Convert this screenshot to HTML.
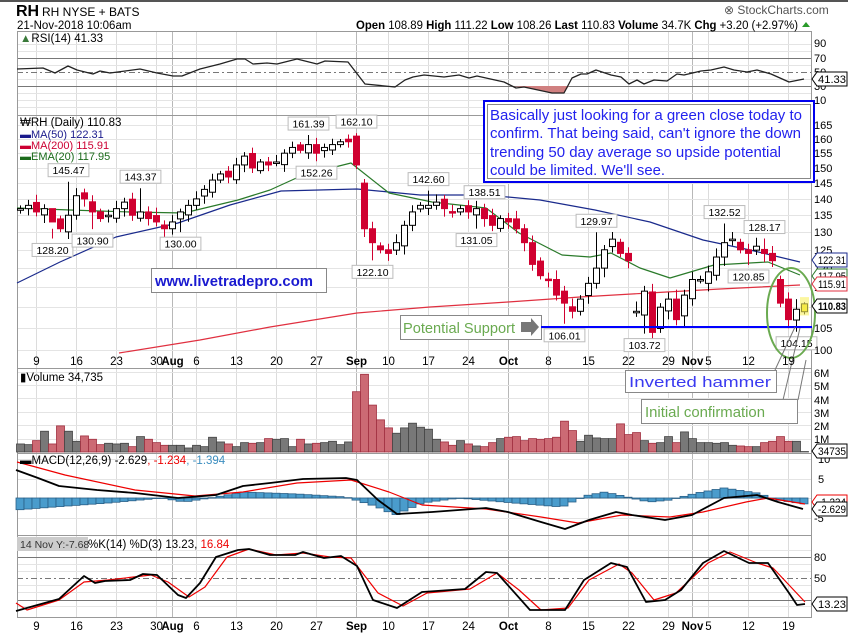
<!DOCTYPE html>
<html><head><meta charset="utf-8"><style>
html,body{margin:0;padding:0;background:#fff;width:848px;height:634px;overflow:hidden}
svg{display:block;font-family:"Liberation Sans",Arial,sans-serif}
</style></head><body>
<svg id="s" width="848" height="634" viewBox="0 0 848 634" xmlns="http://www.w3.org/2000/svg">
<rect x="0" y="0" width="848" height="634" fill="#fff"/>
<rect x="0" y="0" width="848" height="2" fill="#555"/>
<g id="grid"></g>
<g fill="none" stroke="#999" stroke-width="1">
<rect x="17.5" y="31.5" width="794" height="586"/>
<line x1="17" y1="115.5" x2="812" y2="115.5"/>
<line x1="17" y1="368.5" x2="812" y2="368.5"/>
<line x1="17" y1="453.5" x2="812" y2="453.5"/>
<line x1="17" y1="535.5" x2="812" y2="535.5"/>
</g>
<g id="data"></g>
<text x="16" y="16" font-size="16" font-weight="bold" fill="#000">RH</text>
<text x="42" y="16" font-size="12" fill="#000">RH NYSE + BATS</text>
<text x="17" y="29" font-size="11.5" fill="#000">21-Nov-2018 10:06am</text>
<text x="356" y="29" font-size="11.5" fill="#000" textLength="442" lengthAdjust="spacingAndGlyphs"><tspan font-weight="bold">Open</tspan> 108.89 <tspan font-weight="bold">High</tspan> 111.22 <tspan font-weight="bold">Low</tspan> 108.26 <tspan font-weight="bold">Last</tspan> 110.83 <tspan font-weight="bold">Volume</tspan> 34.7K <tspan font-weight="bold">Chg</tspan> +3.20 (+2.97%)</text>
<polygon points="802,27 806,22 810,27" fill="#2a9a2a"/>
<text x="724" y="14" font-size="12" fill="#555">⊗ StockCharts.com</text>
<text x="20" y="42" font-size="11.5" fill="#000"><tspan fill="#3a7a3a">▲</tspan>RSI(14) 41.33</text>
<text x="20" y="126" font-size="11.5" fill="#000">₩RH (Daily) 110.83</text>
<text x="20" y="138" font-size="11" fill="#1a1a8c">▬MA(50) 122.31</text>
<text x="20" y="149" font-size="11" fill="#cc0033">▬MA(200) 115.91</text>
<text x="20" y="160" font-size="11" fill="#1a6a1a">▬EMA(20) 117.95</text>
<text x="20" y="381" font-size="11.5" fill="#000">▮Volume 34,735</text>
<text x="20" y="464" font-size="11.5" fill="#000">▬MACD(12,26,9) -2.629<tspan fill="#e00">, -1.234</tspan><tspan fill="#3b8ec0">, -1.394</tspan></text>
<rect x="17" y="537" width="71" height="14" fill="#ccc"/>
<text x="20" y="548" font-size="10.5" fill="#333">14 Nov Y:-7.68</text>
<text x="88" y="548" font-size="11.5" fill="#000">%K(14) %D(3) 13.23, <tspan fill="#e00">16.84</tspan></text>
<g font-size="11" fill="#000" id="rax">
<text x="814" y="47">90</text><text x="814" y="62">70</text><text x="814" y="76">50</text><text x="814" y="90">30</text><text x="814" y="104">10</text>
<text x="814" y="377">6M</text><text x="814" y="390">5M</text><text x="814" y="404">4M</text><text x="814" y="417">3M</text><text x="814" y="430">2M</text><text x="814" y="443">1M</text>
<text x="818" y="463">10</text><text x="818" y="483">5</text><text x="818" y="502">0</text><text x="814" y="522">-5</text>
<text x="814" y="561">80</text><text x="814" y="582">50</text>
</g>
<rect x="484" y="101" width="330" height="81" fill="#fff" stroke="#0000ee" stroke-width="2"/>
<rect x="487.5" y="104.5" width="323" height="74" fill="none" stroke="#888" stroke-width="1"/>
<g font-size="15" fill="#2222ee">
<text x="490" y="120" textLength="312" lengthAdjust="spacingAndGlyphs">Basically just looking for a green close today to</text>
<text x="490" y="138" textLength="311" lengthAdjust="spacingAndGlyphs">confirm. That being said, can't ignore the down</text>
<text x="490" y="157" textLength="291" lengthAdjust="spacingAndGlyphs">trending 50 day average so upside potential</text>
<text x="490" y="175" textLength="175" lengthAdjust="spacingAndGlyphs">could be limited. We'll see.</text>
</g>
<rect x="151.5" y="268.5" width="175" height="24" fill="#fff" stroke="#888"/>
<text x="155" y="286" font-size="15" font-weight="bold" fill="#1a1ad0" textLength="158" lengthAdjust="spacingAndGlyphs">www.livetradepro.com</text>
<rect x="400.5" y="315.5" width="141" height="24" fill="#fff" stroke="#888"/>
<text x="403" y="333" font-size="15" fill="#6aaa50" textLength="112" lengthAdjust="spacingAndGlyphs">Potential Support</text>
<polygon points="521,322 531,322 531,318 539,327 531,336 531,332 521,332" fill="#777"/>
<line x1="541" y1="327" x2="812" y2="327" stroke="#0000ff" stroke-width="2"/>
<ellipse cx="791" cy="313" rx="24" ry="45" fill="none" stroke="#6aaa50" stroke-width="2"/>
<line x1="775" y1="370" x2="795" y2="327" stroke="#777"/>
<line x1="798" y1="400" x2="806" y2="360" stroke="#777"/>
<line x1="783" y1="400" x2="800" y2="328" stroke="#777"/>
<rect x="625.5" y="370.5" width="151" height="22" fill="#fff" stroke="#888"/>
<text x="629" y="387" font-size="15" fill="#3a3af0" textLength="142" lengthAdjust="spacingAndGlyphs">Inverted hammer</text>
<rect x="641.5" y="399.5" width="156" height="24" fill="#fff" stroke="#888"/>
<text x="645" y="417" font-size="15" fill="#6aaa50" textLength="120" lengthAdjust="spacingAndGlyphs">Initial confirmation</text>
<g id="dates" font-size="11.5" fill="#000"></g>
<g id="tags"></g>
</svg>
<script>
(function(){
var NS="http://www.w3.org/2000/svg";
var G=document.getElementById('data'),GR=document.getElementById('grid'),D=document.getElementById('dates'),RA=document.getElementById('rax'),TG=document.getElementById('tags');
function el(p,t,a,txt){var e=document.createElementNS(NS,t);for(var k in a)e.setAttribute(k,a[k]);if(txt!=null)e.textContent=txt;p.appendChild(e);return e;}
function X(i){return 20+8*i;}
function PY(p){return 350-1034*Math.log10(p/100);}
function pl(pts,col,w,dash){el(G,'polyline',{points:pts.map(function(p){return p[0]+','+p[1]}).join(' '),fill:'none',stroke:col,'stroke-width':w||1,'stroke-dasharray':dash||'none','stroke-linejoin':'round'});}
var panels=[[31,115],[115,368],[368,453],[453,535],[535,617]];
var mondays=[2,7,12,17,22,27,32,37,46,51,56,66,71,76,81,86,91,96];
var wkLab=['9','16','23','30','6','13','20','27','10','17','24','8','15','22','29','5','12','19'];
var months=[19,42,61,84];
mondays.forEach(function(i){panels.forEach(function(p){el(GR,'line',{x1:X(i)+.5,y1:p[0],x2:X(i)+.5,y2:p[1],stroke:'#dcdcdc'});});});
months.forEach(function(i){panels.forEach(function(p){el(GR,'line',{x1:X(i)+.5,y1:p[0],x2:X(i)+.5,y2:p[1],stroke:'#b8b8b8'});});});
function hg(y,c,d){el(GR,'line',{x1:17,y1:y+.5,x2:812,y2:y+.5,stroke:c||'#e4e4e4','stroke-dasharray':d||'none'});}
[44,51,65,79,93,100,107].forEach(function(y){hg(y);});
hg(58,'#777');hg(86,'#777');hg(72,'#777','6,3,2,3');
[165,160,155,150,145,140,135,130,125,120,115,110,105,100].forEach(function(p){var y=Math.round(PY(p));hg(y);el(RA,'text',{x:814,y:y+4},String(p));});
for(var m=1;m<=6;m++)hg(Math.round(452-13.4*m));
[459,479,498,518].forEach(function(y){hg(y);});
[550,564,571,585,592,606].forEach(function(y){hg(y);});
hg(557,'#777');hg(600,'#777');hg(578,'#777','6,3,2,3');
function dl(y){mondays.forEach(function(i,k){el(D,'text',{x:X(i)+.5,y:y,'text-anchor':'middle'},wkLab[k]);});
[['Aug',19],['Sep',42],['Oct',61],['Nov',84]].forEach(function(a){el(D,'text',{x:X(a[1])+.5,y:y,'text-anchor':'middle','font-weight':'bold'},a[0]);});}
dl(365);dl(630);
var rsi=[[17,69],[43,68],[55,73],[68,66],[77,70],[93,74],[100,71],[110,73],[140,69],[157,73],[173,76],[182,76],[200,69],[220,64],[237,59],[245,59],[253,64],[267,63],[277,64],[297,59],[317,64],[325,61],[348,62],[365,84],[395,87],[405,80],[413,77],[424,75],[444,77],[459,75],[469,78],[477,76],[504,82],[516,88],[524,87],[552,93],[564,93],[572,78],[581,74],[587,74],[596,70],[611,75],[621,77],[629,84],[637,80],[644,84],[654,80],[667,81],[677,74],[684,75],[701,71],[711,70],[724,67],[734,70],[747,72],[757,70],[771,74],[789,82],[804,79]];
el(G,'polygon',{points:'513,86 524,87 552,93 564,93 569,86',fill:'#d08080'});
pl(rsi,'#222',1.3);
var C=[137,138, 136,137,133,131,135, 141,140,136,134,135, 137,139,135,136,134, 133,131,133,136,138, 140,143,146,148,147, 151,154,150,152,151, 152,155,157,156,158, 155,157,158,159,159, 151,131,127,125, 124,127,132,136,138, 138,139,137,136,137, 136,137,134,132,134, 133,131,127,121,118, 117,113,111,109,112, 116,120,125,128,124, 122,109,114,104,110, 112,107,113,117,117, 119,123,127,128,125, 124,126,124,122,111, 107,109.5,110.83];
var O={42:161,43:145,44:131,77:109,79:113.8,95:117,96:112,97:106.9,98:108.9,64:127,63:131,68:114,86:116,72:116};
var H={4:131,6:145.47,15:143.37,36:161.39,42:162.1,51:142.6,58:138.51,72:129.97,88:132.52,93:128.17,97:112,98:111.22};
var L={4:128.2,9:130.9,20:130,37:152.26,44:122.1,57:131.05,68:106.01,78:103.72,91:120.85,97:104.15,98:108.26};
var opens=[],hi=[],lo=[];
for(var i=0;i<C.length;i++){var o=O[i]!=null?O[i]:(i?C[i-1]+((i%3)-1)*0.9:136.5);opens.push(o);
 var h=Math.max(o,C[i])+1+((i*7)%5)*0.35,l=Math.min(o,C[i])-1-((i*3)%5)*0.35;if(H[i])h=H[i];if(L[i])l=L[i];hi.push(h);lo.push(l);}
pl([[119,353],[200,340],[270,327],[357,313],[430,307],[508,302],[580,297],[649,293],[720,289],[800,285]],'#e03040',1.2);
pl([[17,283],[60,262],[116,237],[178,223],[230,205],[281,191],[357,189],[420,195],[486,195],[540,200],[595,210],[650,222],[703,240],[750,250],[800,262]],'#1a2a8c',1.2);
pl([[17,208],[70,210],[130,212],[184,213],[238,200],[270,190],[303,175],[351,163],[389,193],[432,202],[486,208],[519,233],[562,255],[590,257],[611,253],[640,268],[670,278],[714,265],[768,262],[800,275]],'#2a7a2a',1.2);
for(var i=0;i<C.length;i++){var x=X(i),o=opens[i],c=C[i],up=c>=o;var col=up?'#000':'#d00030';
 el(G,'line',{x1:x+.5,y1:PY(hi[i]),x2:x+.5,y2:PY(lo[i]),stroke:col});
 var yt=PY(Math.max(o,c)),yb=PY(Math.min(o,c));if(yb-yt<1.5)yb=yt+1.5;
 el(G,'rect',{x:x-2.5,y:yt,width:6,height:yb-yt,fill:i==98?'#f0e020':(up?'#fff':'#d00030'),stroke:col});}
el(G,'rect',{x:X(98)-4,y:PY(112.5),width:9,height:PY(108)-PY(112.5),fill:'#f8f060',opacity:0.6});
function co(i,v,above){var t=v.toFixed(2),w=t.length*5.8+6,x=X(i)+.5-w/2,y=above?PY(v)-18:PY(v)+5;
 el(G,'rect',{x:x,y:y,width:w,height:13,fill:'#fff',stroke:'#bbb'});el(G,'text',{x:X(i)+.5,y:y+10.5,'text-anchor':'middle','font-size':'10.5',fill:'#000'},t);}
[[6,145.47,1],[15,143.37,1],[36,161.39,1],[42,162.1,1],[51,142.6,1],[58,138.51,1],[72,129.97,1],[88,132.52,1],[93,128.17,1],
 [4,128.2,0],[9,130.9,0],[20,130,0],[37,152.26,0],[44,122.1,0],[57,131.05,0],[68,106.01,0],[78,103.72,0],[91,120.85,0],[97,104.15,0]].forEach(function(a){co(a[0],a[1],a[2]);});
function tag(y,t,col,bold){el(TG,'polygon',{points:'812,'+y+' 817,'+(y-7)+' 847,'+(y-7)+' 847,'+(y+7)+' 817,'+(y+7),fill:'#fff',stroke:col});
 el(TG,'text',{x:818,y:y+4,'font-size':'11','font-weight':bold?'bold':'normal',fill:'#000',textLength:28,lengthAdjust:'spacingAndGlyphs'},t);}
tag(79,'41.33','#000');tag(260,'122.31','#1a2a8c');tag(276,'117.95','#2a7a2a');tag(284,'115.91','#e03040');tag(306,'110.83','#000',1);
tag(451,'34735','#000');tag(502,'-1.234','#e00');tag(509,'-2.629','#000');tag(604,'13.23','#000');
var V=[0.6,0.55, 0.85,1.55,0.6,1.95,1.55, 0.8,1.2,0.95,0.55,0.65, 0.6,0.65,0.4,1.15,0.95, 0.7,0.5,0.5,0.5,0.3, 0.5,0.4,1.1,0.75,0.6, 0.4,0.7,0.65,0.7,1.0, 0.95,1.0,0.4,0.95,0.6, 0.65,0.7,0.8,0.55,0.75, 4.5,5.8,3.5,2.4, 1.8,1.4,1.8,2.15,1.85, 1.7,0.95,0.75,0.5,0.85, 0.6,0.45,0.4,0.7,1.0, 1.1,1.15,0.85,1.0,0.95, 1.0,1.1,2.3,1.6,0.8, 1.25,1.05,1.0,1.0,2.1, 1.3,1.45,0.85,0.65,0.7, 1.15,0.7,1.5,1.0,0.7, 0.7,0.65,0.7,0.5,0.45, 0.4,0.4,0.7,0.8,1.15, 0.8,0.8,0.035];
for(var i=0;i<V.length;i++){var dn=i&&C[i]<C[i-1];var h=V[i]*13.4;
 el(G,'rect',{x:X(i)-3.5,y:452-h,width:8,height:h,fill:dn?'#cc6a74':'#787878',stroke:dn?'#a03040':'#444','stroke-width':0.8});}
var hist=[[16,510],[54,507],[108,503],[162,498],[184,502],[216,497],[243,492],[297,494],[346,497],[378,507],[395,515],[422,503],[459,498],[514,503],[562,507],[584,496],[605,492],[627,497],[649,502],[670,500],[697,493],[724,488],[757,493],[778,500],[805,504]];
function interp(a,x){for(var k=0;k<a.length-1;k++){if(x>=a[k][0]&&x<=a[k+1][0]){var t=(x-a[k][0])/(a[k+1][0]-a[k][0]);return a[k][1]+t*(a[k+1][1]-a[k][1]);}}return x<a[0][0]?a[0][1]:a[a.length-1][1];}
for(var i=0;i<C.length;i++){var x=X(i),y=interp(hist,x);var y0=498;el(G,'rect',{x:x-4,y:Math.min(y,y0),width:8,height:Math.max(0.5,Math.abs(y-y0)),fill:'#4a9ccc',stroke:'#2a6088','stroke-width':0.8});}
pl([[17,462],[32,466],[65,475],[135,490],[195,496],[243,492],[297,483],[351,480],[389,492],[422,505],[486,509],[541,517],[578,523],[622,515],[670,517],[703,512],[746,502],[768,498],[805,504]],'#e00',1.2);
pl([[16,470],[38,478],[59,486],[97,490],[135,493],[178,498],[216,495],[243,486],[270,483],[303,479],[346,478],[357,480],[378,500],[397,514],[432,512],[486,508],[508,512],[541,522],[565,529],[589,520],[616,512],[632,515],[665,520],[692,515],[724,498],[757,495],[778,502],[803,509]],'#000',1.8);
pl([[16,603],[27,610],[59,600],[84,582],[108,580],[151,575],[168,582],[189,597],[205,587],[227,557],[249,549],[276,555],[303,553],[330,557],[351,558],[378,593],[403,606],[427,593],[470,589],[497,573],[519,590],[541,610],[568,608],[589,580],[619,564],[632,573],[654,600],[676,593],[708,563],[730,552],[757,563],[773,568],[805,602]],'#e00',1.2);
pl([[16,611],[59,599],[84,576],[95,583],[105,581],[130,580],[143,574],[157,575],[178,595],[186,598],[200,583],[216,557],[238,550],[249,549],[270,555],[295,555],[303,552],[324,558],[341,556],[357,566],[373,600],[397,608],[422,592],[465,589],[486,572],[497,573],[530,610],[565,610],[584,580],[611,563],[627,567],[646,602],[665,600],[681,590],[703,563],[724,551],[749,563],[768,563],[789,593],[797,605],[805,604]],'#000',1.8);
})();
</script>
</body></html>
